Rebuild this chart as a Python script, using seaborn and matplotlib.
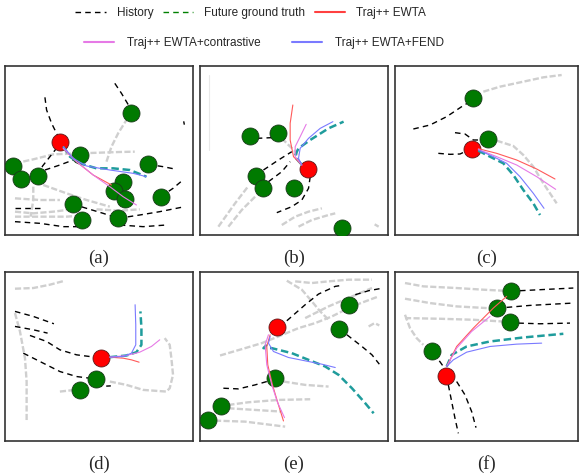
import numpy as np
import pandas as pd
import matplotlib
matplotlib.use("Agg")
import matplotlib.pyplot as plt
import seaborn as sns
from matplotlib.lines import Line2D

# Coordenadas (pixeis de cada painel, y para baixo)

# (a)
a_ego = [(180, 245)]
a_agents = [(395, 160), (240, 285), (40, 318), (62, 358), (115, 348), (445, 313),
            (370, 365), (343, 392), (375, 418), (483, 410), (218, 432), (245, 480), (355, 475)]
a_hist = [[(345, 70), (365, 100), (380, 125), (395, 150)],
          [(135, 112), (140, 150), (155, 190), (170, 220), (180, 240)],
          [(172, 262), (150, 290), (128, 318), (115, 345)],
          [(135, 330), (180, 315), (220, 300), (240, 288)],
          [(445, 313), (490, 320), (530, 328)],
          [(552, 184), (554, 194)],
          [(483, 410), (520, 385), (552, 358)],
          [(218, 432), (260, 445), (310, 460), (355, 475)],
          [(355, 475), (420, 465), (480, 455), (555, 440)],
          [(45, 485), (120, 490), (190, 500), (245, 500)],
          [(45, 445), (120, 445)],
          [(360, 495), (430, 500), (500, 495)]]
a_others = [[(320, 305), (335, 260), (355, 220), (380, 180)],
            [(45, 310), (100, 298), (160, 283), (240, 280), (300, 278), (360, 276), (405, 275)],
            [(100, 380), (100, 420), (92, 470)],
            [(130, 375), (200, 400), (260, 420), (330, 440)],
            [(45, 415), (120, 420), (180, 420)],
            [(45, 455), (100, 460), (160, 455), (200, 450)],
            [(45, 470), (120, 470), (200, 470), (270, 465)],
            [(290, 448), (360, 452), (420, 448)]]
a_gt = [(190, 260), (210, 290), (240, 310), (290, 325), (340, 325), (390, 330), (440, 350)]
a_ewta = [(190, 265), (230, 305), (280, 345), (335, 375)]
a_con = [(190, 265), (230, 305), (280, 345), (330, 380), (370, 410), (410, 435)]
a_fend = [(190, 260), (220, 295), (260, 318), (330, 330), (400, 340), (440, 350)]

# (b)
b_ego = [(337, 327)]
b_agents = [(165, 228), (248, 218), (182, 348), (205, 385), (296, 385), (440, 505)]
b_hist = [[(185, 235), (230, 233)],
          [(205, 330), (250, 300), (290, 275)],
          [(220, 365), (260, 335), (285, 305)],
          [(345, 350), (340, 385), (320, 420), (290, 440), (245, 458)]]
b_others = [[(260, 235), (280, 255), (298, 272), (310, 288)],
            [(70, 500), (120, 430), (160, 378)],
            [(100, 500), (140, 450), (185, 405)],
            [(260, 495), (300, 470), (340, 455), (380, 445)],
            [(310, 500), (350, 480), (400, 465), (420, 460)],
            [(538, 493), (550, 500)]]
b_faint = [(43, 45), (43, 270)]
b_gt = [(318, 312), (298, 290), (310, 265), (345, 240), (400, 205), (445, 185)]
b_ewta = [(320, 315), (295, 290), (285, 240), (285, 190), (293, 135)]
b_con = [(320, 315), (300, 290), (300, 260), (315, 230), (333, 193)]
b_fend = [(320, 315), (310, 295), (315, 265), (340, 235), (375, 205), (413, 185)]

# (c)
c_ego = [(245, 268)]
c_agents = [(250, 115), (295, 238)]
c_hist = [[(70, 207), (120, 195), (170, 170), (215, 140), (240, 125)],
          [(195, 218), (225, 222), (250, 240), (272, 240)],
          [(145, 280), (180, 283), (210, 282), (225, 275)]]
c_others = [[(280, 95), (330, 80), (400, 65), (460, 52), (515, 45)],
            [(320, 242), (370, 258), (400, 285), (430, 320), (460, 370), (480, 400), (500, 430)]]
c_gt = [(265, 272), (300, 290), (340, 310), (370, 345), (400, 390), (430, 430), (450, 465)]
c_ewta = [(265, 266), (320, 280), (380, 300), (440, 327), (495, 357)]
c_con = [(265, 268), (320, 290), (380, 315), (440, 350), (497, 388)]
c_fend = [(265, 270), (310, 290), (350, 310), (390, 350), (430, 400), (462, 445)]

# (d)
d_ego = [(305, 278)]
d_agents = [(287, 343), (240, 375)]
d_hist = [[(45, 140), (100, 155), (162, 177)],
          [(45, 185), (100, 195), (143, 205)],
          [(90, 212), (140, 230), (180, 255), (230, 270), (285, 277)],
          [(70, 265), (120, 290), (180, 320), (230, 335), (270, 340)],
          [(290, 365), (333, 363)]]
d_others = [[(45, 72), (100, 70), (150, 60), (195, 48)],
            [(45, 145), (60, 200), (75, 280), (80, 350), (80, 470)],
            [(180, 380), (225, 375)],
            [(330, 350), (380, 360), (430, 375), (500, 380), (510, 370), (520, 330),
             (515, 280), (510, 240), (495, 220)]]
d_gt = [(330, 277), (380, 272), (410, 262), (425, 240), (425, 190), (422, 140)]
d_ewta = [(330, 277), (370, 280), (395, 285), (418, 292)]
d_con = [(330, 277), (380, 272), (420, 262), (455, 245), (480, 225)]
d_fend = [(330, 277), (370, 275), (395, 265), (408, 240), (408, 180), (406, 120)]

# (e)
e_ego = [(247, 187)]
e_agents = [(462, 120), (432, 193), (240, 340), (78, 422), (40, 465)]
e_hist = [[(275, 168), (330, 120), (370, 88), (420, 65), (440, 62)],
          [(480, 90), (520, 78), (553, 72)],
          [(455, 210), (500, 245), (530, 270), (552, 298)],
          [(85, 370), (130, 372), (180, 360), (215, 350)]]
e_others = [[(275, 48), (320, 75), (350, 110), (375, 140), (400, 165)],
            [(75, 272), (150, 250), (200, 235), (250, 215), (310, 190), (360, 175),
             (410, 155), (470, 125), (550, 95)],
            [(300, 50), (350, 55), (400, 50), (460, 45), (530, 45)],
            [(330, 160), (400, 125), (440, 108), (530, 70)],
            [(265, 350), (330, 360), (400, 365)],
            [(100, 420), (160, 412), (250, 405), (345, 403)],
            [(100, 430), (180, 435), (260, 440)],
            [(60, 467), (150, 470), (270, 485)],
            [(520, 185), (538, 175), (552, 182)]]
e_gt = [(215, 240), (205, 250), (230, 250), (290, 265), (340, 285), (390, 305),
        (430, 330), (470, 370), (510, 415), (535, 445)]
e_ewta = [(225, 210), (215, 245), (218, 300), (232, 360), (250, 420), (265, 468)]
e_con = [(220, 210), (210, 240), (215, 300), (230, 360), (247, 412), (268, 458)]
e_fend = [(225, 215), (220, 235), (235, 260), (280, 278), (340, 290), (380, 298), (420, 308)]

# (f)
f_ego = [(168, 333)]
f_agents = [(363, 78), (320, 130), (360, 173), (125, 260)]
f_hist = [[(390, 78), (450, 75), (550, 70)],
          [(350, 128), (420, 122), (550, 115)],
          [(385, 175), (450, 177), (540, 175)],
          [(148, 288), (160, 305)],
          [(175, 360), (185, 410), (195, 460), (205, 505)],
          [(200, 350), (225, 390), (245, 440), (258, 488)]]
f_others = [[(45, 55), (100, 65), (200, 70), (280, 75), (340, 78)],
            [(45, 102), (120, 115), (200, 125), (290, 130)],
            [(45, 160), (150, 162), (250, 165), (335, 170)],
            [(45, 150), (60, 190), (80, 220), (100, 240)]]
f_gt = [(170, 305), (185, 270), (230, 245), (300, 230), (400, 218), (520, 207)]
f_ewta = [(170, 305), (200, 245), (250, 190), (310, 130), (350, 95)]
f_con = [(170, 305), (200, 250), (245, 200), (300, 155)]
f_fend = [(170, 305), (190, 285), (230, 262), (300, 245), (380, 238), (455, 235)]

paineis = [
    ("(a)", (5, 66, 193, 235), (15, 580, 18, 525), a_ego, a_agents, a_hist, a_others, a_gt, a_ewta, a_con, a_fend),
    ("(b)", (200, 66, 388, 235), (15, 578, 18, 525), b_ego, b_agents, b_hist, b_others, b_gt, b_ewta, b_con, b_fend),
    ("(c)", (395, 66, 578, 235), (15, 564, 18, 525), c_ego, c_agents, c_hist, c_others, c_gt, c_ewta, c_con, c_fend),
    ("(d)", (5, 272, 193, 441), (15, 580, 22, 528), d_ego, d_agents, d_hist, d_others, d_gt, d_ewta, d_con, d_fend),
    ("(e)", (200, 272, 388, 441), (15, 578, 22, 528), e_ego, e_agents, e_hist, e_others, e_gt, e_ewta, e_con, e_fend),
    ("(f)", (395, 272, 578, 441), (15, 564, 22, 528), f_ego, f_agents, f_hist, f_others, f_gt, f_ewta, f_con, f_fend),
]

cor_gt = "#1f9c9c"
cor_ewta = "#ff5a5a"
cor_con = "#e67ae6"
cor_fend = "#7a7aff"

sns.set_theme(style="white")
plt.rcParams['font.family'] = ['Liberation Sans', 'DejaVu Sans']

W, H = 580, 476
fig = plt.figure(figsize=(W / 100, H / 100), dpi=100)


def linha(ax, pts, **kw):
    df = pd.DataFrame(pts, columns=["x", "y"])
    sns.lineplot(data=df, x="x", y="y", sort=False, estimator=None, ax=ax, **kw)


eixos = []
for nome, (x0, y0, x1, y1), (lx0, lx1, ly0, ly1), ego, agents, hist, others, gt, ewta, con, fend in paineis:
    ax = fig.add_axes([x0 / W, 1 - y1 / H, (x1 - x0) / W, (y1 - y0) / H])
    eixos.append(ax)
    for p in others:
        linha(ax, p, color="#cfcfcf", lw=1.7, linestyle=(0, (2.6, 1.0)), zorder=1)
    for p in hist:
        linha(ax, p, color="black", lw=1.0, linestyle=(0, (4, 3)), zorder=2)
    ag = pd.DataFrame(agents, columns=["x", "y"])
    sns.scatterplot(data=ag, x="x", y="y", s=150, color="#007a00", edgecolor="#1a3a1a",
                    linewidth=0.6, ax=ax, zorder=3)
    eg = pd.DataFrame(ego, columns=["x", "y"])
    sns.scatterplot(data=eg, x="x", y="y", s=150, color="#ff0000", edgecolor="#5a1a1a",
                    linewidth=0.6, ax=ax, zorder=3)
    linha(ax, gt, color=cor_gt, lw=1.8, linestyle=(0, (3, 1.5)), zorder=4)
    linha(ax, ewta, color=cor_ewta, lw=0.8, zorder=5)
    linha(ax, con, color=cor_con, lw=0.8, zorder=5)
    linha(ax, fend, color=cor_fend, lw=0.8, zorder=5)
    ax.set_xlim(lx0, lx1)
    ax.set_ylim(ly1, ly0)
    ax.set_xticks([])
    ax.set_yticks([])
    ax.set_xlabel("")
    ax.set_ylabel("")
    for s in ax.spines.values():
        s.set_color("#333333")
        s.set_linewidth(1.2)
    fig.text((x0 + x1) / 2 / W, 1 - (y1 + 23) / H, nome, ha="center", va="center",
             fontsize=13.5, family="Liberation Serif")

# linha fina quase invisivel em (b)
linha(eixos[1], b_faint, color="#e8e8e8", lw=0.8, zorder=0)

# legenda em duas linhas
h1 = [Line2D([], [], color="black", lw=1.0, linestyle=(0, (4, 3))),
      Line2D([], [], color="green", lw=1.0, linestyle=(0, (4, 3))),
      Line2D([], [], color="#ff4040", lw=1.5)]
l1 = ["History", "Future ground truth", "Traj++ EWTA"]
h2 = [Line2D([], [], color=cor_con, lw=1.5),
      Line2D([], [], color=cor_fend, lw=1.5)]
l2 = ["Traj++ EWTA+contrastive", "Traj++ EWTA+FEND"]
fig.legend(h1, l1, loc="center", bbox_to_anchor=(0.432, 1 - 13 / H), ncol=3, frameon=False,
           fontsize=8.5, handlelength=2.6, handletextpad=0.9, columnspacing=0.8)
fig.legend(h2, l2, loc="center", bbox_to_anchor=(0.455, 1 - 43 / H), ncol=2, frameon=False,
           fontsize=8.5, handlelength=2.6, handletextpad=1.1, columnspacing=2.6)

fig.savefig("out.png", dpi=100)
